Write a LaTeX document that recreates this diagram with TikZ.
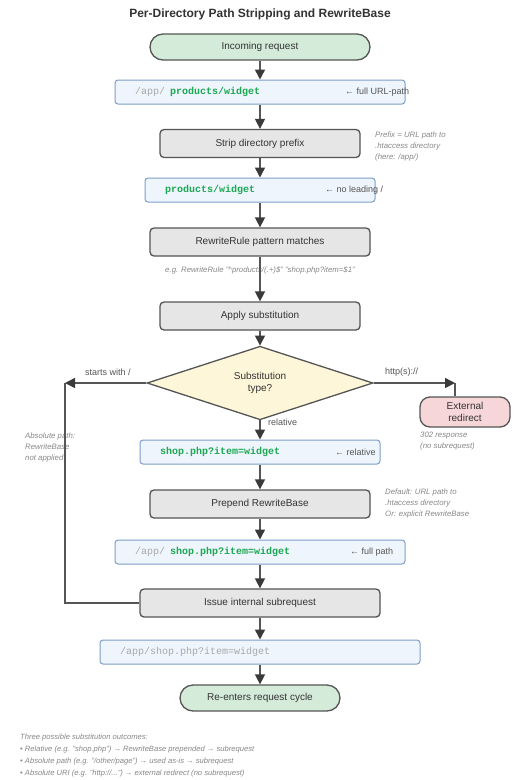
\documentclass[tikz,border=0pt]{standalone}
\usepackage{fontspec}
\setmainfont{Liberation Sans}
\setmonofont{Liberation Mono}
\usetikzlibrary{shapes.geometric,arrows.meta}
\definecolor{edgec}{HTML}{555555}
\definecolor{arrc}{HTML}{555555}
\definecolor{headc}{HTML}{3A3A3A}
\definecolor{greenf}{HTML}{D5EBDA}
\definecolor{grayf}{HTML}{E6E6E6}
\definecolor{bluef}{HTML}{EEF5FD}
\definecolor{blueb}{HTML}{7F9EC8}
\definecolor{yellowf}{HTML}{FDF6D8}
\definecolor{pinkf}{HTML}{F6D6D9}
\definecolor{codegreen}{HTML}{1DA851}
\definecolor{codegray}{HTML}{A8A8A8}
\definecolor{notec}{HTML}{888888}
\definecolor{labelc}{HTML}{555555}
\definecolor{textc}{HTML}{333333}
\tikzset{
  base/.style={line width=1.3pt, inner sep=0pt, text=textc, font=\fontsize{10}{12}\selectfont},
  pill/.style={base, draw=edgec, fill=greenf, rounded corners=13pt, minimum height=26pt},
  proc/.style={base, draw=edgec, fill=grayf, rounded corners=4pt, minimum height=28pt},
  databox/.style={draw=blueb, line width=1pt, fill=bluef, rounded corners=3pt, minimum height=24pt, inner sep=0pt},
  redir/.style={base, draw=edgec, fill=pinkf, rounded corners=10pt, minimum height=30pt, align=center},
  decision/.style={base, draw=edgec, fill=yellowf, diamond, minimum width=226pt, minimum height=50pt, align=center},
  arr/.style={draw=arrc, line width=1.5pt, -{Triangle[length=10pt,width=10pt,color=headc]}},
  plainline/.style={draw=arrc, line width=1.5pt},
  codeg/.style={anchor=west, inner sep=0pt, font=\fontsize{10}{12}\ttfamily\bfseries, text=codegreen},
  codep/.style={anchor=west, inner sep=0pt, font=\fontsize{10}{12}\ttfamily, text=codegray},
  tag/.style={anchor=west, inner sep=0pt, font=\fontsize{9}{11}\selectfont, text=labelc},
  elabel/.style={inner sep=0pt, font=\fontsize{9}{11}\selectfont, text=labelc},
  note/.style={inner sep=0pt, font=\fontsize{7.8}{11}\selectfont\itshape, text=notec, align=left}
}
\begin{document}
\begin{tikzpicture}[x=1pt,y=-1pt]
\fill[white] (0,0) rectangle (520,780);
\useasboundingbox (0,0) rectangle (520,780);

\node[inner sep=0pt, font=\fontsize{12}{14}\selectfont\bfseries, text=textc] (title) at (260,14) {Per-Directory Path Stripping and RewriteBase};

\node[pill, minimum width=220pt] (inc) at (260,47) {Incoming request};

\node[databox, minimum width=290pt] (b1) at (260,92) {};
\node[codep] (b1a) at (135,92) {/app/};
\node[codeg] (b1b) at (170,92) {products/widget};
\node[tag] (b1c) at (345,92) {← full URL-path};

\node[proc, minimum width=200pt] (strip) at (260,143.5) {Strip directory prefix};
\node[note, anchor=north west] (n1) at (375,132) {Prefix = URL path to\\.htaccess directory\\(here: /app/)};

\node[databox, minimum width=230pt] (b2) at (260,190) {};
\node[codeg] (b2b) at (165,190) {products/widget};
\node[tag] (b2c) at (325,190) {← no leading /};

\node[proc, minimum width=220pt] (rule) at (260,242) {RewriteRule pattern matches};
\node[note] (n2) at (260,270) {e.g. RewriteRule "\textasciicircum products/(.+)\$" "shop.php?item=\$1"};

\node[proc, minimum width=200pt] (apply) at (260,316) {Apply substitution};

\node[decision] (dia) at (260,383) {Substitution\\type?};

\coordinate (cl) at (65,383);
\coordinate (cr) at (455,383);
\node[elabel, anchor=west] (l1) at (85,372) {starts with /};
\node[elabel, anchor=west] (l2) at (385,372) {http(s)://};
\node[elabel, anchor=west] (l3) at (268,422) {relative};

\node[redir, minimum width=90pt] (ext) at (465,412) {External\\redirect};
\node[note, anchor=north west] (n3) at (420,432) {302 response\\(no subrequest)};
\node[note, anchor=north west] (n4) at (25,433) {Absolute path:\\RewriteBase\\not applied};

\node[databox, minimum width=240pt] (b3) at (260,452) {};
\node[codeg] (b3b) at (160,452) {shop.php?item=widget};
\node[tag] (b3c) at (335,452) {← relative};

\node[proc, minimum width=220pt] (pre) at (260,504) {Prepend RewriteBase};
\node[note, anchor=north west] (n5) at (385,489) {Default: URL path to\\.htaccess directory\\Or: explicit RewriteBase};

\node[databox, minimum width=290pt] (b4) at (260,552) {};
\node[codep] (b4a) at (135,552) {/app/};
\node[codeg] (b4b) at (170,552) {shop.php?item=widget};
\node[tag] (b4c) at (350,552) {← full path};

\node[proc, minimum width=240pt] (issue) at (260,603) {Issue internal subrequest};

\node[databox, minimum width=320pt] (b5) at (260,652) {};
\node[codep] (b5a) at (120,652) {/app/shop.php?item=widget};

\node[pill, minimum width=160pt] (reent) at (260,698) {Re-enters request cycle};

\node[note, anchor=north west, font=\fontsize{7.6}{12}\selectfont\itshape] (foot) at (20,734) {Three possible substitution outcomes:\\
• Relative (e.g. "shop.php") → RewriteBase prepended → subrequest\\
• Absolute path (e.g. "/other/page") → used as-is → subrequest\\
• Absolute URI (e.g. "http://...") → external redirect (no subrequest)};

\draw[arr] (inc) -- (b1);
\draw[arr] (b1) -- (strip);
\draw[arr] (strip) -- (b2);
\draw[arr] (b2) -- (rule);
\draw[arr] (rule) -- (apply);
\draw[arr] (apply) -- (dia);
\draw[arr] (dia.west) -- (cl);
\draw[plainline] (cl) -- (cl |- issue.west) -- (issue.west);
\draw[arr] (dia.east) -- (cr);
\draw[plainline] (cr) -- (cr |- ext.north);
\draw[arr] (dia) -- (b3);
\draw[arr] (b3) -- (pre);
\draw[arr] (pre) -- (b4);
\draw[arr] (b4) -- (issue);
\draw[arr] (issue) -- (b5);
\draw[arr] (b5) -- (reent);
\end{tikzpicture}
\end{document}
